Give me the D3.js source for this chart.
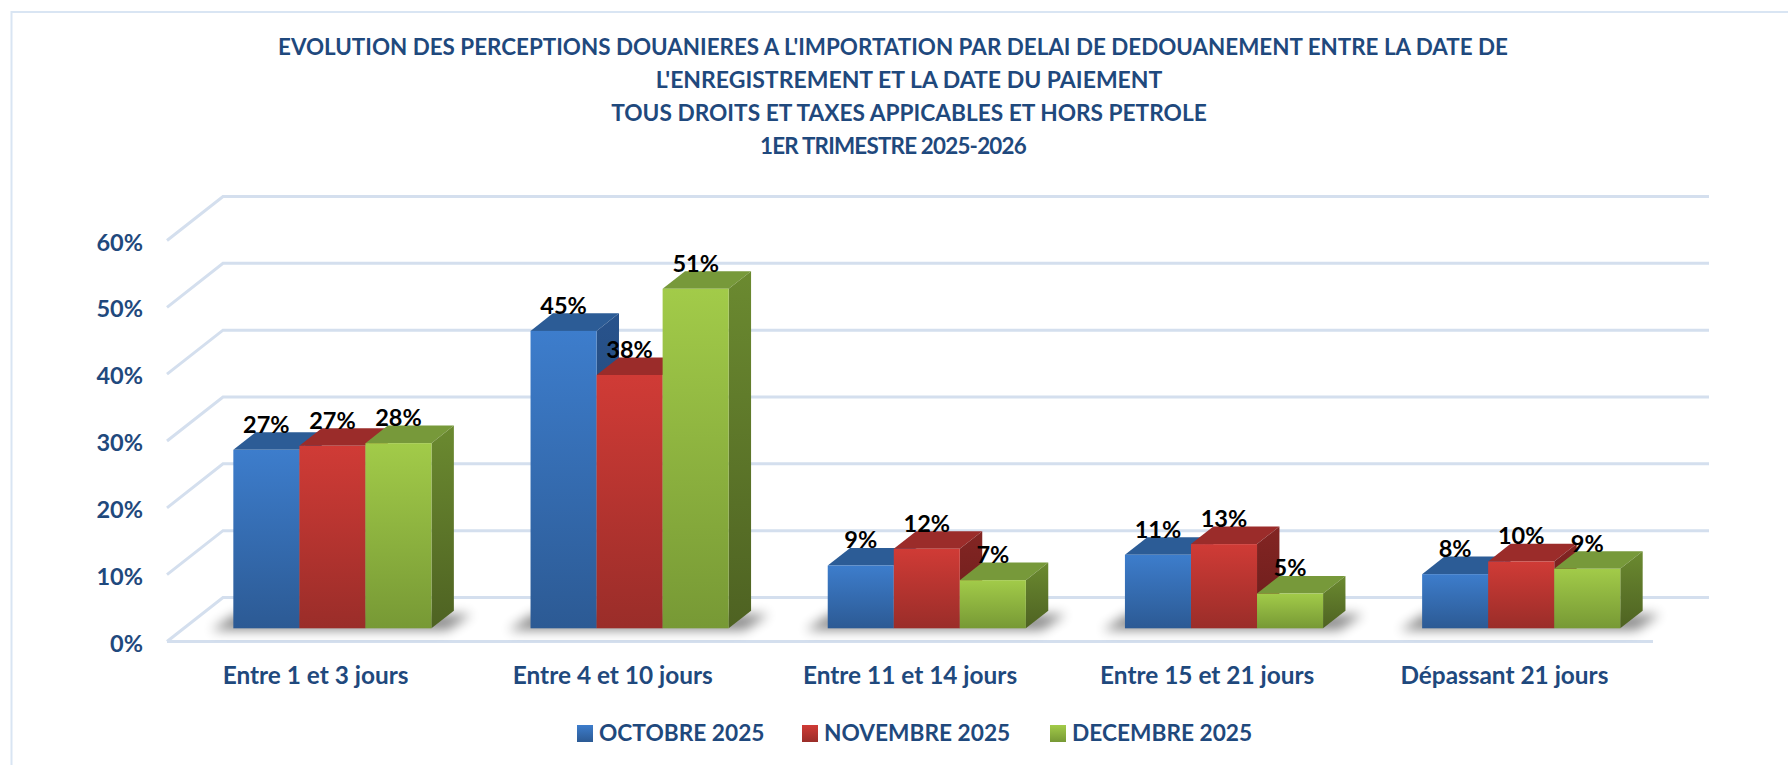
<!DOCTYPE html>
<html>
<head>
<meta charset="utf-8">
<script src="https://cdn.jsdelivr.net/npm/d3@7"></script>
<style>
  html, body { margin: 0; padding: 0; background: #fff; }
  svg { display: block; }
  text { font-family: Lato, "Open Sans", sans-serif; font-weight: 700; }
</style>
</head>
<body>
<div id="chart"></div>
<script>
// values
const categories = ["Entre 1 et 3 jours", "Entre 4 et 10 jours", "Entre 11 et 14 jours", "Entre 15 et 21 jours", "Dépassant 21 jours"];
const seriesNames = ["OCTOBRE 2025", "NOVEMBRE 2025", "DECEMBRE 2025"];
const octobre = [26.7, 44.5, 9.4, 11.0, 8.1];
const novembre = [27.3, 37.9, 11.9, 12.6, 10.0];
const decembre = [27.7, 50.8, 7.2, 5.2, 8.9];
const yTicks = [0, 10, 20, 30, 40, 50, 60];
const titleLines = [
  "EVOLUTION DES PERCEPTIONS DOUANIERES A L'IMPORTATION PAR DELAI DE DEDOUANEMENT ENTRE LA DATE DE",
  "L'ENREGISTREMENT ET LA DATE DU PAIEMENT",
  "TOUS DROITS ET TAXES APPICABLES ET HORS PETROLE",
  "1ER TRIMESTRE 2025-2026"
];

const width = 1788, height = 765;
const navy = "#1f497d";

// the title lines are not quite on one centre in the original
const titleX = [893, 909, 909, 893];
const titleSize = [22.4, 23, 22.7, 22.4];
const titleSpacing = [0, 0, 0, -0.8];

// floor depth of the 3d box and the slice of it the bars sit in
const depthX = 56, depthY = 44;
const barZ0 = 0.3, barZ1 = 0.7;

const colors = [
  { top: "#2c5c96", light: "#3d7dcc", dark: "#2c5a94", sideLight: "#28538c", sideDark: "#1f3f6c" },
  { top: "#9b2c2a", light: "#d03b36", dark: "#9a2d29", sideLight: "#832523", sideDark: "#6a1d1b" },
  { top: "#77993a", light: "#a2cb49", dark: "#779935", sideLight: "#6b8a30", sideDark: "#4e6222" }
];

const svg = d3.select("#chart").append("svg")
  .attr("width", width)
  .attr("height", height);

const defs = svg.append("defs");
colors.forEach(function (c, i) {
  const front = defs.append("linearGradient").attr("id", "front" + i)
    .attr("x1", 0).attr("y1", 0).attr("x2", 0).attr("y2", 1);
  front.append("stop").attr("offset", "0%").attr("stop-color", c.light);
  front.append("stop").attr("offset", "100%").attr("stop-color", c.dark);
  const side = defs.append("linearGradient").attr("id", "side" + i)
    .attr("x1", 0).attr("y1", 0).attr("x2", 0).attr("y2", 1);
  side.append("stop").attr("offset", "0%").attr("stop-color", c.sideLight);
  side.append("stop").attr("offset", "100%").attr("stop-color", c.sideDark);
});
defs.append("filter").attr("id", "blur")
  .attr("x", "-20%").attr("y", "-100%").attr("width", "140%").attr("height", "300%")
  .append("feGaussianBlur").attr("stdDeviation", 6);

// frame
svg.append("path")
  .attr("d", "M11.5,765V12H1788")
  .attr("fill", "none")
  .attr("stroke", "#d9e5f3")
  .attr("stroke-width", 2);

// title
svg.append("g").selectAll("text")
  .data(titleLines)
  .enter().append("text")
  .attr("x", function (d, i) { return titleX[i]; })
  .attr("y", function (d, i) { return 54.5 + i * 33; })
  .attr("text-anchor", "middle")
  .attr("font-size", function (d, i) { return titleSize[i]; })
  .attr("letter-spacing", function (d, i) { return titleSpacing[i]; })
  .attr("fill", navy)
  .text(function (d) { return d; });

// scales
const x = d3.scaleBand().domain(categories).range([167, 1653]);
const xBar = d3.scaleBand().domain(d3.range(3)).range([0, x.bandwidth()]).paddingOuter(0.75).paddingInner(0);
const y = d3.scaleLinear().domain([0, 60]).range([641.5, 240.5]);

// grid: left wall diagonals and back wall lines
const grid = svg.append("g")
  .attr("fill", "none")
  .attr("stroke", "#d4dfee")
  .attr("stroke-width", 3);
grid.selectAll("path")
  .data(yTicks)
  .enter().append("path")
  .attr("d", function (d) {
    const x0 = x.range()[0], x1 = x.range()[1];
    return "M" + x0 + "," + y(d) + "L" + (x0 + depthX) + "," + (y(d) - depthY) + "H" + (x1 + depthX);
  });
grid.append("path")
  .attr("d", "M" + x.range()[0] + "," + y(0) + "H" + x.range()[1]);

// bars
const series = [octobre, novembre, decembre];

function pts(list) {
  return list.map(function (p) { return p.join(","); }).join(" ");
}

const groups = svg.append("g").selectAll("g")
  .data(categories)
  .enter().append("g");

groups.each(function (cat, ci) {
  const g = d3.select(this);
  const w = xBar.bandwidth();
  const dx0 = barZ0 * depthX, dy0 = barZ0 * depthY;
  const dx1 = (barZ1 - barZ0) * depthX, dy1 = (barZ1 - barZ0) * depthY;
  const left = x(cat) + xBar(0) + dx0;
  const right = x(cat) + xBar(2) + w + dx0;
  const base = y(0) - dy0;

  // floor shadow
  g.append("polygon")
    .attr("points", pts([[left - 22, base + 2], [left + 2, base - 14], [right + 40, base - 14], [right + 16, base + 2]]))
    .attr("fill", "#000")
    .attr("opacity", 0.45)
    .attr("filter", "url(#blur)");

  series.forEach(function (values, si) {
    const v = values[ci];
    const bx = x(cat) + xBar(si) + dx0;
    const by = y(v) - dy0;
    // top
    g.append("polygon")
      .attr("points", pts([[bx, by], [bx + dx1, by - dy1], [bx + w + dx1, by - dy1], [bx + w, by]]))
      .attr("fill", colors[si].top);
    // side
    g.append("polygon")
      .attr("points", pts([[bx + w, by], [bx + w + dx1, by - dy1], [bx + w + dx1, base - dy1], [bx + w, base]]))
      .attr("fill", "url(#side" + si + ")");
    // front
    g.append("rect")
      .attr("x", bx)
      .attr("y", by)
      .attr("width", w)
      .attr("height", base - by)
      .attr("fill", "url(#front" + si + ")");
  });
});

// value labels go over every bar
const labels = svg.append("g");
categories.forEach(function (cat, ci) {
  series.forEach(function (values, si) {
    const v = values[ci];
    labels.append("text")
      .attr("x", x(cat) + xBar(si) + xBar.bandwidth() / 2 + barZ0 * depthX)
      .attr("y", y(v) - barZ1 * depthY + 0.5)
      .attr("text-anchor", "middle")
      .attr("font-size", 23.5)
      .attr("fill", "#000")
      .text(Math.round(v) + "%");
  });
});

// axes
const yAxis = svg.append("g")
  .attr("transform", "translate(143,2)")
  .call(d3.axisLeft(y).tickValues(yTicks).tickSize(0).tickPadding(0).tickFormat(function (d) { return d + "%"; }));
yAxis.select(".domain").remove();
yAxis.selectAll("text")
  .attr("font-size", 23.5)
  .attr("fill", navy)
  .style("font-family", "Lato")
  .style("font-weight", 700);

const xAxis = svg.append("g")
  .attr("transform", "translate(0,683.5)")
  .call(d3.axisBottom(x).tickSize(0).tickPadding(0));
xAxis.select(".domain").remove();
xAxis.selectAll("text")
  .attr("y", 0)
  .attr("dy", 0)
  .attr("font-size", 24.4)
  .attr("fill", navy)
  .style("font-family", "Lato")
  .style("font-weight", 700);

// legend
const legendX = [577, 802, 1050];
const legend = svg.append("g").selectAll("g")
  .data(seriesNames)
  .enter().append("g")
  .attr("transform", function (d, i) { return "translate(" + legendX[i] + ",725)"; });
legend.append("rect")
  .attr("width", 16)
  .attr("height", 17)
  .attr("fill", function (d, i) { return "url(#front" + i + ")"; });
legend.append("text")
  .attr("x", 22)
  .attr("y", 15.5)
  .attr("font-size", 22.7)
  .attr("fill", navy)
  .text(function (d) { return d; });
</script>
</body>
</html>
